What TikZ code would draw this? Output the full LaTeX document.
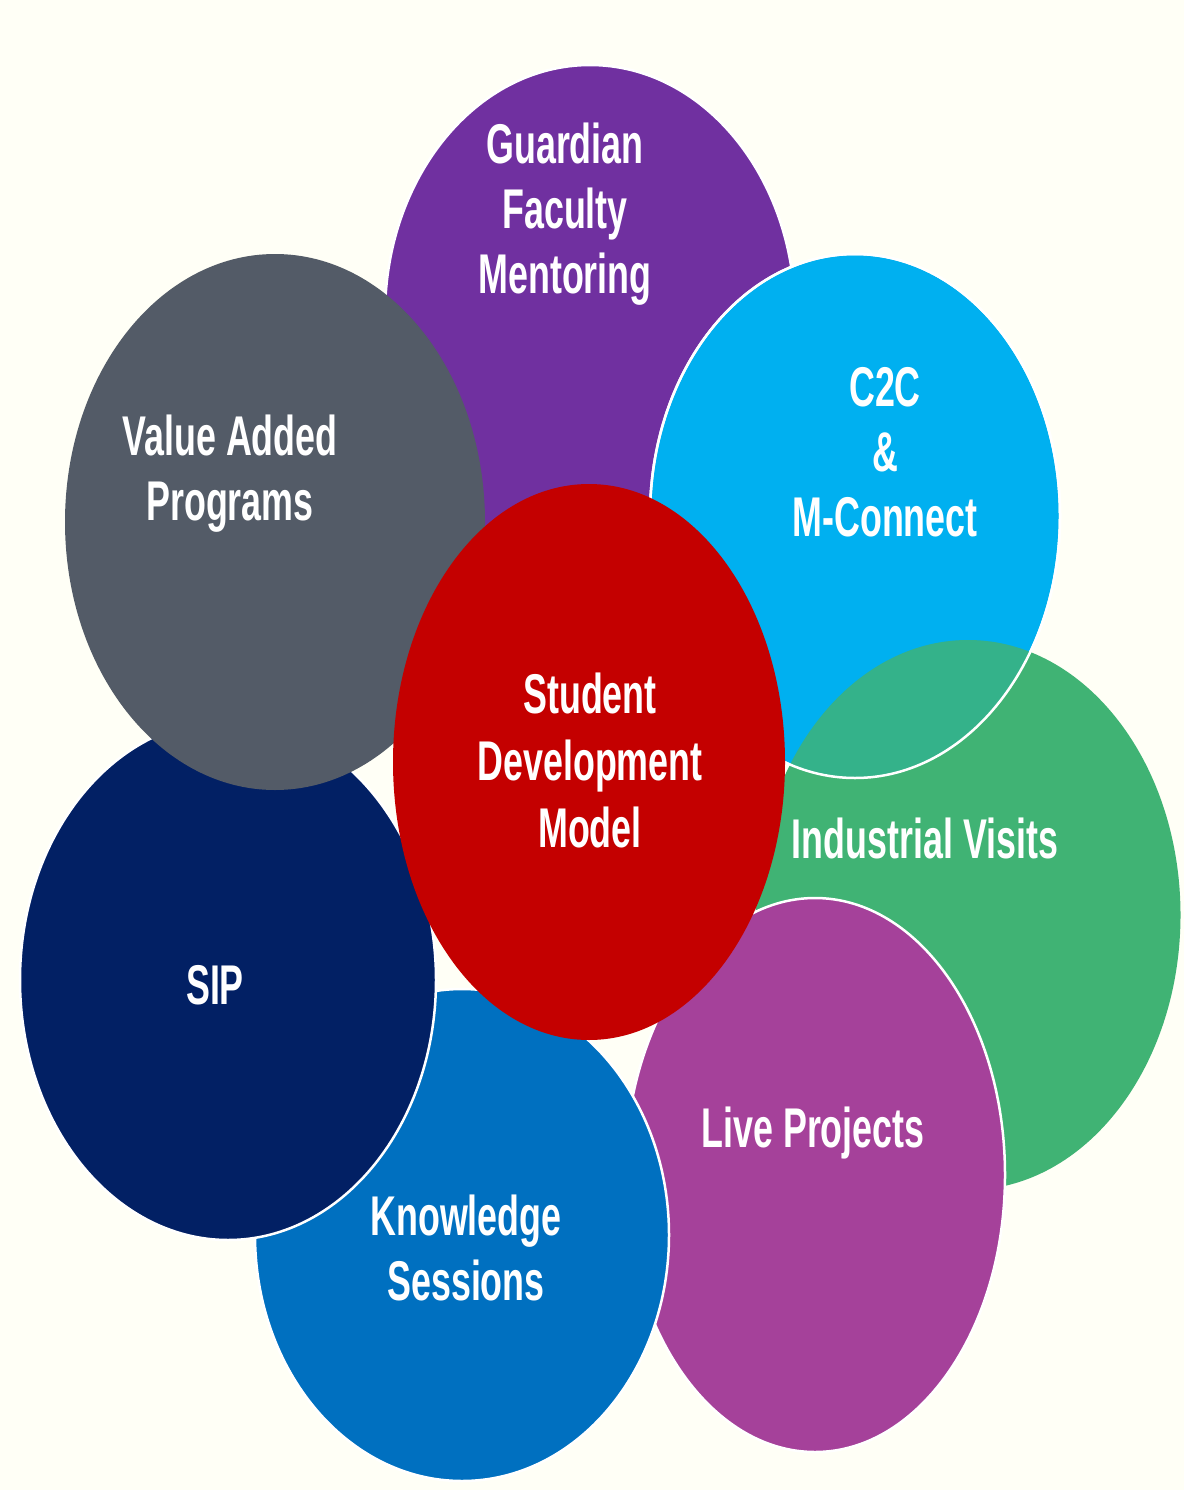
\documentclass[tikz,border=0pt]{standalone}
\usepackage{fontspec}
\usepackage{tikz}
\usetikzlibrary{shapes.geometric}
\newfontfamily\narrowfont[FakeStretch=0.64]{Liberation Sans}

\definecolor{bgcream}{HTML}{FFFFF6}
\definecolor{guardpurple}{HTML}{7030A0}
\definecolor{cyanblue}{HTML}{00B0F0}
\definecolor{visitgreen}{HTML}{40B374}
\definecolor{projmagenta}{HTML}{A5419A}
\definecolor{knowblue}{HTML}{0070C0}
\definecolor{sipnavy}{HTML}{022064}
\definecolor{valgray}{HTML}{535B67}
\definecolor{modelred}{HTML}{C40000}

\tikzset{
  bubble/.style={ellipse, draw=white, line width=2.5pt, inner sep=0pt},
  bubbletext/.style={text=white, align=center,
    font=\narrowfont\bfseries\fontsize{56}{65}\selectfont}
}

\begin{document}
\begin{tikzpicture}[x=1pt, y=-1pt]
    % Fundo
    \fill[bgcream] (0,0) rectangle (1184,1490);
    \useasboundingbox (0,0) rectangle (1184,1490);
    % Elipses
    \node[bubble, fill=guardpurple, minimum width=410pt, minimum height=500pt] (guardian) at (590,315) {};
    \node[bubble, fill=cyanblue, minimum width=410pt, minimum height=524pt] (c2c) at (855,516) {};
    \node[bubble, draw=none, fill=visitgreen, minimum width=425pt, minimum height=550pt] (visits) at (968,915) {};
    % C2C visto por cima do verde
    \begin{scope}
        \clip (visits.center) ellipse (212.5 and 275);
        \fill[cyanblue, opacity=0.18] (c2c.center) ellipse (205 and 262);
    \end{scope}
    \node[bubble, draw=white, fill=none, minimum width=410pt, minimum height=524pt] (c2cedge) at (855,516) {};
    \node[bubble, fill=projmagenta, minimum width=380pt, minimum height=554pt] (projects) at (815,1175) {};
    \node[bubble, fill=knowblue, minimum width=414pt, minimum height=492pt] (sessions) at (462,1235) {};
    \node[bubble, fill=sipnavy, minimum width=416pt, minimum height=520pt] (sip) at (228,980) {};
    \node[bubble, draw=none, fill=valgray, minimum width=420pt, minimum height=536pt] (valueadd) at (275,522) {};
    \node[bubble, draw=none, fill=modelred, minimum width=392pt, minimum height=556pt] (model) at (589,762) {};
    % Textos
    \node[bubbletext] (guardian-txt) at (565,214) {Guardian\\Faculty\\Mentoring};
    \node[bubbletext] (c2c-txt) at (885,452) {C2C\\\&\\M-Connect};
    \node[bubbletext] (visits-txt) at (925,838) {Industrial Visits};
    \node[bubbletext] (projects-txt) at (813,1133) {Live Projects};
    \node[bubbletext] (sessions-txt) at (466,1248) {Knowledge\\Sessions};
    \node[bubbletext] (sip-txt) at (215,985) {SIP};
    \node[bubbletext] (valueadd-txt) at (230,474) {Value Added\\Programs};
    \node[bubbletext, font=\narrowfont\bfseries\fontsize{56}{67}\selectfont] (model-txt) at (590,760) {Student\\Development\\Model};
\end{tikzpicture}
\end{document}
